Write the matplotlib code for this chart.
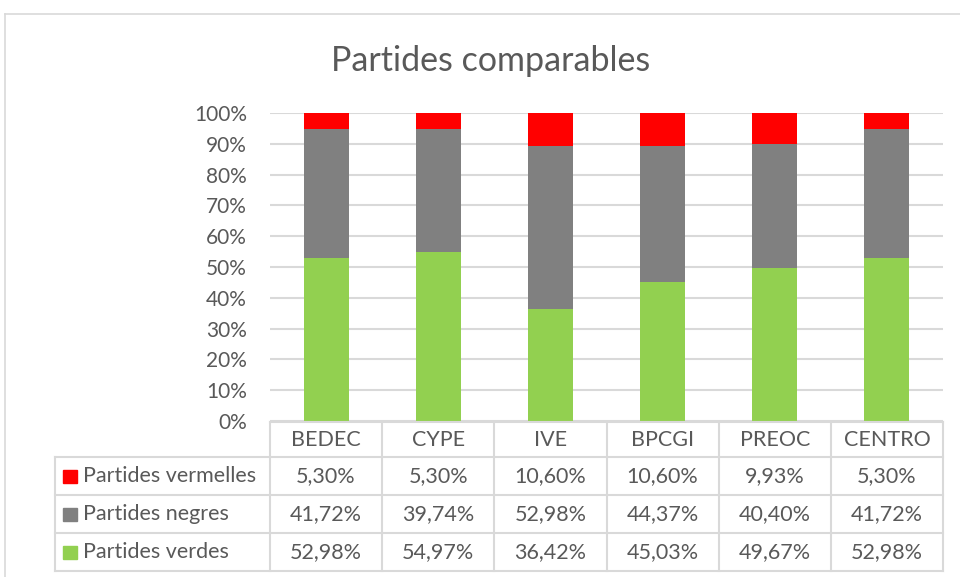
import numpy as np
import matplotlib.pyplot as plt
from matplotlib.lines import Line2D
from matplotlib.patches import Rectangle

plt.rcParams['font.family'] = ['Lato', 'DejaVu Sans']

# data (percent)
categories = ["BEDEC", "CYPE", "IVE", "BPCGI", "PREOC", "CENTRO"]
vermelles = [5.30, 5.30, 10.60, 10.60, 9.93, 5.30]
negres = [41.72, 39.74, 52.98, 44.37, 40.40, 41.72]
verdes = [52.98, 54.97, 36.42, 45.03, 49.67, 52.98]
series_names = ["Partides vermelles", "Partides negres", "Partides verdes"]
series_colors = ["#FF0000", "#808080", "#92D050"]

W, H = 960, 577
txt_col = "#595959"
grid_col = "#d9d9d9"

fig = plt.figure(figsize=(W / 100, H / 100), dpi=100)

def px_axes(x0, y0, x1, y1):
    # pixel box (top-left origin) -> figure fraction
    return [x0 / W, 1 - y1 / H, (x1 - x0) / W, (y1 - y0) / H]

# outer chart frame (right/bottom edges cut off)
fig.add_artist(Line2D([5 / W, 5 / W], [0, 1 - 14 / H], color=grid_col, lw=1.2))
fig.add_artist(Line2D([5 / W, 1], [1 - 14 / H, 1 - 14 / H], color=grid_col, lw=1.2))

fig.text(491 / W, 1 - 61 / H, "Partides comparables", ha="center", va="center",
         fontsize=24.5, color=txt_col)

# stacked 100% bars
ax = fig.add_axes(px_axes(270, 113, 943, 421))
x = np.arange(len(categories))
tot = np.array(vermelles) + np.array(negres) + np.array(verdes)
g = np.array(verdes) / tot
n = np.array(negres) / tot
r = np.array(vermelles) / tot
ax.bar(x, g, 0.4, color=series_colors[2], zorder=3)
ax.bar(x, n, 0.4, bottom=g, color=series_colors[1], zorder=3)
ax.bar(x, r, 0.4, bottom=g + n, color=series_colors[0], zorder=3)
ax.set_xlim(-0.5, len(categories) - 0.5)
ax.set_ylim(0, 1)
ax.set_yticks(np.linspace(0, 1, 11))
ax.set_yticklabels([f"{int(v)}%" for v in np.linspace(0, 100, 11)])
ax.yaxis.grid(True, color=grid_col, lw=1.5, zorder=0)
ax.set_xticks([])
ax.tick_params(axis="y", length=0, pad=16.5, labelsize=15, labelcolor=txt_col)
for s in ax.spines.values():
    s.set_visible(False)

# data table below the plot
tab = fig.add_axes(px_axes(55, 422, 943, 571))
cw = (943 - 270) / len(categories)
lab_w = (270 - 55) / cw
tab.set_xlim(-0.5 - lab_w, len(categories) - 0.5)
tab.set_ylim(571, 422)
tab.axis("off")
rows = [422, 457, 495, 533, 571]
lk = dict(color=grid_col, lw=1.5, clip_on=False)
x_left, x_mid, x_right = -0.5 - lab_w, -0.5, len(categories) - 0.5
tab.plot([x_mid, x_right], [rows[0], rows[0]], **lk)
for yy in rows[1:]:
    tab.plot([x_left, x_right], [yy, yy], **lk)
tab.plot([x_left, x_left], [rows[1], rows[-1]], **lk)
for i in range(len(categories) + 1):
    tab.plot([i - 0.5, i - 0.5], [rows[0], rows[-1]], **lk)

fs = 15.5
for i, c in enumerate(categories):
    tab.text(i, (rows[0] + rows[1]) / 2 + 1, c, ha="center", va="center",
             fontsize=fs, color=txt_col)

table_vals = [vermelles, negres, verdes]
for j, (name, col, vals) in enumerate(zip(series_names, series_colors, table_vals)):
    yc = (rows[j + 1] + rows[j + 2]) / 2
    sq = 14 / cw
    tab.add_patch(Rectangle((x_left + 8 / cw, yc - 6), sq, 13, color=col, clip_on=False))
    tab.text(x_left + 28 / cw, yc, name, ha="left", va="center", fontsize=fs, color=txt_col)
    for i, v in enumerate(vals):
        tab.text(i, yc, f"{v:.2f}%".replace(".", ","), ha="center", va="center",
                 fontsize=fs, color=txt_col)

fig.savefig("out.png", dpi=100)
